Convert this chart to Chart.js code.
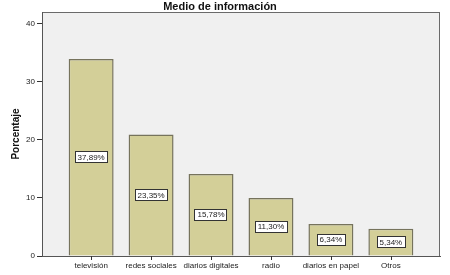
<!DOCTYPE html>
<html>
<head>
<meta charset="utf-8">
<script src="https://cdn.jsdelivr.net/npm/chart.js@4"></script>
<style>
  html, body { margin: 0; padding: 0; background: #fff; }
  #wrap { width: 450px; height: 275px; }
</style>
</head>
<body>
<div id="wrap"><canvas id="medioChart" width="450" height="275"></canvas></div>
<script>
// data
const categories = ['televisión', 'redes sociales', 'diarios digitales', 'radio', 'diarios en papel', 'Otros'];
const porcentaje = [33.9, 20.9, 14.1, 10.0, 5.5, 4.7];
const etiquetas = ['37,89%', '23,35%', '15,78%', '11,30%', '6,34%', '5,34%'];
const yTicks = [0, 10, 20, 30, 40];

const FONT = '"Liberation Sans", Arial, sans-serif';

// grey plot area with a frame round it, plus the small tick marks under the x axis
const plotFrame = {
    id: 'plotFrame',
    beforeDraw(chart) {
        const { ctx, chartArea: a } = chart;
        ctx.save();
        ctx.fillStyle = '#ffffff';
        ctx.fillRect(0, 0, chart.width, chart.height);
        ctx.fillStyle = '#f0f0f0';
        ctx.fillRect(a.left, a.top, a.right - a.left, a.bottom - a.top);
        ctx.strokeStyle = '#6a6a6a';
        ctx.lineWidth = 1;
        ctx.strokeRect(a.left + 0.5, a.top + 0.5, a.right - a.left - 1, a.bottom - a.top);
        ctx.restore();
    },
    afterDraw(chart) {
        const { ctx, chartArea: a } = chart;
        const xs = chart.scales.x;
        ctx.save();
        ctx.strokeStyle = '#333333';
        ctx.lineWidth = 1;
        xs.ticks.forEach((t, i) => {
            const px = Math.round(xs.getPixelForTick(i)) + 0.5;
            ctx.beginPath();
            ctx.moveTo(px, a.bottom);
            ctx.lineTo(px, a.bottom + 4);
            ctx.stroke();
        });
        ctx.restore();
    }
};

// white boxed labels in the middle of each bar
const barLabels = {
    id: 'barLabels',
    afterDatasetsDraw(chart) {
        const { ctx } = chart;
        const meta = chart.getDatasetMeta(0);
        ctx.save();
        ctx.font = '8px ' + FONT;
        ctx.textAlign = 'center';
        ctx.textBaseline = 'middle';
        meta.data.forEach((bar, i) => {
            const txt = etiquetas[i];
            const cx = bar.x;
            const cy = (bar.y + bar.base) / 2;
            const w = ctx.measureText(txt).width + 6;
            const h = 12;
            ctx.fillStyle = '#ffffff';
            ctx.fillRect(Math.round(cx - w / 2), Math.round(cy - h / 2), Math.round(w), h);
            ctx.strokeStyle = '#333333';
            ctx.lineWidth = 1;
            ctx.strokeRect(Math.round(cx - w / 2) + 0.5, Math.round(cy - h / 2) + 0.5, Math.round(w) - 1, h - 1);
            ctx.fillStyle = '#222222';
            ctx.fillText(txt, cx, cy + 0.5);
        });
        ctx.restore();
    }
};

var ctx = document.getElementById('medioChart').getContext('2d');

var medioChart = new Chart(ctx, {
    type: 'bar',
    data: {
        datasets: [{
            label: 'Porcentaje',
            data: porcentaje.map((v, i) => ({ x: i, y: v })),
            backgroundColor: '#d3cf98',
            borderColor: '#76735c',
            borderWidth: 1.5,
            barPercentage: 0.75,
            categoryPercentage: 1
        }]
    },
    options: {
        responsive: false,
        animation: false,
        devicePixelRatio: 1,
        layout: { padding: { left: 0, right: 10, top: 0, bottom: 0 } },
        plugins: {
            legend: { display: false },
            tooltip: { enabled: false },
            title: {
                display: true,
                text: 'Medio de información',
                color: '#111',
                font: { family: FONT, size: 11, weight: 'bold', lineHeight: 1 },
                padding: { top: 1, bottom: 0 }
            }
        },
        scales: {
            x: {
                type: 'linear',
                offset: false,
                min: -0.82,
                max: 5.82,
                afterBuildTicks: (scale) => { scale.ticks = categories.map((c, i) => ({ value: i })); },
                afterFit: (scale) => { scale.height = 19; },
                ticks: {
                    autoSkip: false,
                    maxRotation: 0,
                    padding: 0,
                    color: '#222',
                    font: { family: FONT, size: 8 },
                    callback: (v) => categories[v]
                },
                grid: { display: false, drawTicks: true, tickLength: 5 },
                border: { display: true, color: '#555' }
            },
            y: {
                min: 0,
                max: 42,
                afterBuildTicks: (scale) => { scale.ticks = yTicks.map(v => ({ value: v })); },
                afterFit: (scale) => { scale.width = 42; },
                ticks: {
                    padding: 2,
                    color: '#222',
                    font: { family: FONT, size: 8 }
                },
                grid: { display: true, drawOnChartArea: false, tickLength: 5, tickColor: '#333' },
                border: { display: true, color: '#555' },
                title: {
                    display: true,
                    text: 'Porcentaje',
                    color: '#111',
                    font: { family: FONT, size: 10, weight: 'bold' },
                    padding: { top: 10, bottom: 0 }
                }
            }
        }
    },
    plugins: [plotFrame, barLabels]
});
</script>
</body>
</html>
